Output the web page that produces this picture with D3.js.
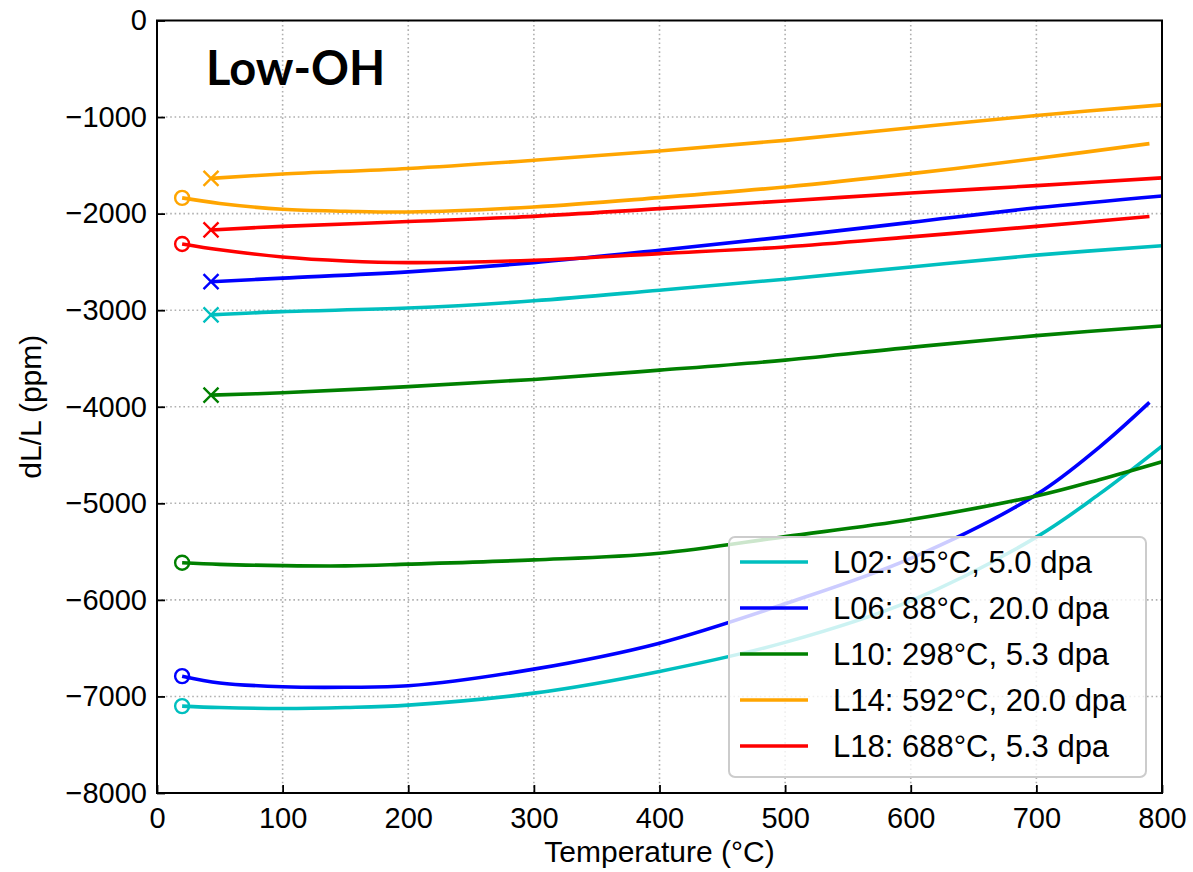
<!DOCTYPE html>
<html>
<head>
<meta charset="utf-8">
<script src="https://cdn.jsdelivr.net/npm/d3@7"></script>
<style>
  body { margin: 0; background: #fff; }
  text { font-family: "Liberation Sans", Arial, sans-serif; fill: #000; }
</style>
</head>
<body>
<svg id="chart" width="1193" height="872"></svg>
<script>
// series labels and colours (L02, L06, L10, L14, L18)
const labels = ["L02: 95°C, 5.0 dpa", "L06: 88°C, 20.0 dpa", "L10: 298°C, 5.3 dpa",
                "L14: 592°C, 20.0 dpa", "L18: 688°C, 5.3 dpa"];
const colors = ["#00bfbf", "#0000ff", "#008000", "#ffa500", "#ff0000"];

// curves that start with an "x" marker
const tempX = [43, 100, 200, 300, 400, 500, 600, 700, 800];
const l02X = [-3049, -3015, -2978, -2903, -2793, -2679, -2552, -2430, -2332];
const l06X = [-2705, -2668, -2603, -2507, -2379, -2241, -2091, -1940, -1817];
const l10X = [-3880, -3855, -3792, -3717, -3621, -3517, -3385, -3263, -3163];
const l14X = [-1635, -1590, -1532, -1448, -1352, -1241, -1110, -984, -874];
const l18X = [-2169, -2132, -2082, -2028, -1948, -1869, -1786, -1710, -1630];

// curves that start with an "o" marker
const tempO02 = [20, 50, 100, 150, 200, 300, 400, 500, 600, 700, 750, 800];
const l02O = [-7100, -7115, -7125, -7115, -7090, -6966, -6741, -6440, -6010, -5350, -4905, -4407];
const tempO06 = [20, 50, 100, 150, 200, 300, 400, 500, 600, 700, 750, 790];
const l06O = [-6790, -6860, -6900, -6905, -6890, -6717, -6448, -6040, -5570, -4910, -4420, -3955];
const tempO10 = [20, 50, 100, 150, 200, 300, 400, 500, 600, 700, 750, 800];
const l10O = [-5615, -5632, -5645, -5648, -5630, -5586, -5517, -5345, -5168, -4924, -4755, -4569];
const tempO14 = [20, 50, 100, 150, 200, 300, 400, 500, 600, 700, 790];
const l14O = [-1837, -1895, -1955, -1975, -1983, -1931, -1834, -1724, -1586, -1429, -1275];
const tempO18 = [20, 50, 100, 150, 200, 300, 400, 500, 600, 700, 790];
const l18O = [-2314, -2374, -2449, -2490, -2507, -2483, -2414, -2345, -2241, -2132, -2030];

const xTicks = [0, 100, 200, 300, 400, 500, 600, 700, 800];
const yTicks = [0, -1000, -2000, -3000, -4000, -5000, -6000, -7000, -8000];

const upper = [l02X, l06X, l10X, l14X, l18X];
const lowerT = [tempO02, tempO06, tempO10, tempO14, tempO18];
const lower = [l02O, l06O, l10O, l14O, l18O];

const svg = d3.select("#chart");
const pLeft = 157, pRight = 1162, pTop = 20.5, pBottom = 793;

const x = d3.scaleLinear().domain([0, 800]).range([pLeft, pRight]);
const y = d3.scaleLinear().domain([-8000, 0]).range([pBottom, pTop]);

// grid
const grid = svg.append("g")
  .attr("stroke", "#b0b0b0").attr("stroke-width", 1.6).attr("stroke-dasharray", "1.6,2.8");
grid.selectAll(".gx").data(xTicks.slice(1, -1)).enter().append("line")
  .attr("x1", d => x(d)).attr("x2", d => x(d)).attr("y1", pTop).attr("y2", pBottom);
grid.selectAll(".gy").data(yTicks.slice(1, -1)).enter().append("line")
  .attr("y1", d => y(d)).attr("y2", d => y(d)).attr("x1", pLeft).attr("x2", pRight);

// axes, ticks pointing inward
const fmt = d => d < 0 ? "\u2212" + Math.abs(d) : String(d);
const xAxis = svg.append("g").attr("transform", `translate(0,${pBottom})`)
  .call(d3.axisBottom(x).tickValues(xTicks).tickFormat(fmt).tickSizeInner(-8).tickSizeOuter(0).tickPadding(14));
const yAxis = svg.append("g").attr("transform", `translate(${pLeft},0)`)
  .call(d3.axisLeft(y).tickValues(yTicks).tickFormat(fmt).tickSizeInner(-8).tickSizeOuter(0).tickPadding(10));
[xAxis, yAxis].forEach(a => {
  a.select(".domain").remove();
  a.selectAll(".tick line").attr("stroke", "#000").attr("stroke-width", 1.8);
  a.selectAll(".tick text").style("font-size", "29px").attr("fill", "#000");
});
xAxis.selectAll(".tick text").attr("dy", "0.71em");

const line = d3.line().x(d => x(d[0])).y(d => y(d[1])).curve(d3.curveCatmullRom.alpha(0.5));

const curves = svg.append("g").attr("fill", "none").attr("stroke-width", 3.6)
  .attr("stroke-linecap", "butt");

colors.forEach((c, i) => {
  const up = tempX.map((t, j) => [t, upper[i][j]]);
  const lo = lowerT[i].map((t, j) => [t, lower[i][j]]);
  curves.append("path").datum(lo).attr("d", line).attr("stroke", c);
  curves.append("path").datum(up).attr("d", line).attr("stroke", c);
  // circle marker at start of the "o" curve
  svg.append("circle").attr("cx", x(lo[0][0])).attr("cy", y(lo[0][1])).attr("r", 7)
    .attr("fill", "none").attr("stroke", c).attr("stroke-width", 2.4);
  // x marker at start of the "x" curve
  const cx = x(up[0][0]), cy = y(up[0][1]), s = 7.5;
  svg.append("path")
    .attr("d", `M${cx - s},${cy - s}L${cx + s},${cy + s}M${cx - s},${cy + s}L${cx + s},${cy - s}`)
    .attr("stroke", c).attr("stroke-width", 2.4);
});

// frame
svg.append("rect").attr("x", pLeft).attr("y", pTop).attr("width", pRight - pLeft).attr("height", pBottom - pTop)
  .attr("fill", "none").attr("stroke", "#000").attr("stroke-width", 2);

// legend
const lg = svg.append("g");
lg.append("rect").attr("x", 729).attr("y", 537).attr("width", 417).attr("height", 240)
  .attr("rx", 6).attr("fill", "#fff").attr("fill-opacity", 0.8)
  .attr("stroke", "#cccccc").attr("stroke-width", 2);
labels.forEach((l, i) => {
  const ly = 562 + 46 * i;
  lg.append("line").attr("x1", 740).attr("x2", 808).attr("y1", ly).attr("y2", ly)
    .attr("stroke", colors[i]).attr("stroke-width", 3.6);
  lg.append("text").attr("x", 833).attr("y", ly).attr("dy", "0.36em")
    .style("font-size", "31px").text(l);
});

// annotation
svg.append("text").attr("x", 206).attr("y", 85).style("font-size", "47px")
  .style("font-weight", "bold").style("font-family", "Lato, 'DejaVu Sans', sans-serif").text("Low-OH");

// axis labels
svg.append("text").attr("x", (pLeft + pRight) / 2).attr("y", 862).attr("text-anchor", "middle")
  .style("font-size", "30px").text("Temperature (°C)");
svg.append("text").attr("transform", `translate(41,${(pTop + pBottom) / 2}) rotate(-90)`)
  .attr("text-anchor", "middle").style("font-size", "30px").text("dL/L (ppm)");
</script>
</body>
</html>
